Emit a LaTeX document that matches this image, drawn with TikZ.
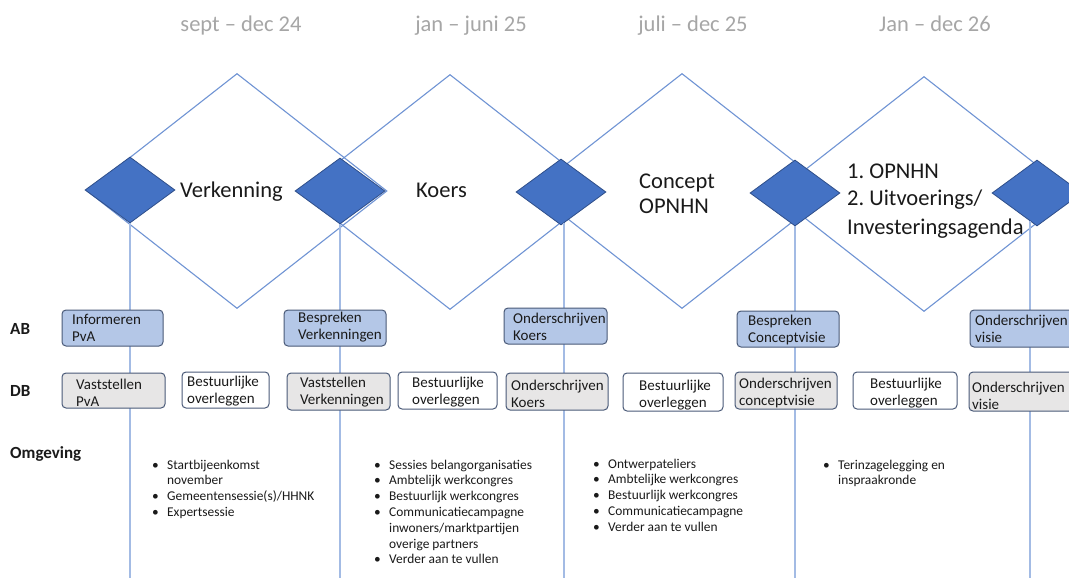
\documentclass[tikz,border=0pt]{standalone}
\usepackage{fontspec}
\setmainfont{Carlito}
\frenchspacing
\usetikzlibrary{shapes.geometric}
\definecolor{diamline}{HTML}{7094D4}
\definecolor{vline}{HTML}{A3BBE4}
\definecolor{smallfill}{HTML}{4472C4}
\definecolor{smalldraw}{HTML}{2F4F8A}
\definecolor{abfill}{HTML}{B4C7E7}
\definecolor{boxdraw}{HTML}{4A5A78}
\definecolor{dbfill}{HTML}{E7E6E6}
\definecolor{headgray}{HTML}{A6A6A6}
\definecolor{txt}{HTML}{1A1A1A}
\newcommand\llist[1]{\begin{tabular}[t]{@{}l@{}}#1\end{tabular}}
\newcommand\blist[1]{\begin{tabular}[t]{@{}p{15pt}@{}l@{}}#1\end{tabular}}
% name, x1, y1, x2, y2, style, text x, text baseline y, text
\newcommand\bx[9]{%
  \pgfmathsetmacro\bxw{#4-#2}\pgfmathsetmacro\bxh{#5-#3}%
  \node[#6, minimum width=\bxw pt, minimum height=\bxh pt] (#1) at ({(#2+#4)/2},{(#3+#5)/2}) {};
  \node[boxtext] (#1t) at (#7,#8) {\llist{#9}};}
\tikzset{
  bigd/.style={diamond, draw=diamline, line width=1.1pt, minimum width=300pt, minimum height=235pt, inner sep=0pt},
  smalld/.style={diamond, draw=smalldraw, fill=smallfill, line width=0.8pt, minimum width=90pt, minimum height=66pt, inner sep=0pt},
  vl/.style={draw=vline, line width=1.5pt},
  boxbase/.style={rounded corners=4pt, draw=boxdraw, line width=1pt, inner sep=0pt},
  abbox/.style={boxbase, fill=abfill},
  dbbox/.style={boxbase, fill=dbfill},
  wbox/.style={boxbase, fill=white},
  boxtext/.style={anchor=base west, inner sep=0pt, text=txt, font=\fontsize{15}{17}\selectfont},
  header/.style={anchor=base, text=headgray, font=\fontsize{22.5}{26}\selectfont, inner sep=0pt},
  rowlab/.style={anchor=base west, text=txt, font=\fontsize{17}{20}\selectfont\bfseries, inner sep=0pt},
  phase/.style={anchor=base west, text=txt, inner sep=0pt},
  bullets/.style={anchor=base west, text=txt, inner sep=0pt, font=\fontsize{13.4}{15.8}\selectfont},
}
\begin{document}
\begin{tikzpicture}[x=1pt,y=-1pt]
\path[use as bounding box] (0,0) rectangle (1069,578);
\clip (0,0) rectangle (1069,578);
\fill[white] (0,0) rectangle (1069,578);

% headers
\node[header] (h1) at (241,32) {sept – dec 24};
\node[header] (h2) at (471,32) {jan – juni 25};
\node[header] (h3) at (693,32) {juli – dec 25};
\node[header] (h4) at (935,32) {Jan – dec 26};

% big diamonds
\node[bigd] (b1) at (237,191) {};
\node[bigd] (b2) at (450,192) {};
\node[bigd] (b3) at (682,191) {};
\node[bigd] (b4) at (924,194) {};

% small diamonds
\node[smalld] (s1) at (130,190) {};
\node[smalld] (s2) at (340,191) {};
\node[smalld] (s3) at (561,192) {};
\node[smalld] (s4) at (795,193) {};
\node[smalld] (s5) at (1037,193) {};

% vertical lines
\coordinate (e1) at (130,578);
\coordinate (e2) at (340,578);
\coordinate (e3) at (564,578);
\coordinate (e4) at (795,578);
\coordinate (e5) at (1030,578);
\draw[vl] ([yshift=0.6pt]s1.south) -- (e1);
\draw[vl] ([yshift=0.6pt]s2.south) -- (e2);
\draw[vl] ([xshift=3pt,yshift=2.2pt]s3.south) -- (e3);
\draw[vl] ([yshift=0.6pt]s4.south) -- (e4);
\draw[vl] ([xshift=-7pt,yshift=5.1pt]s5.south) -- (e5);

% phase labels
\node[phase, font=\fontsize{22.5}{26}\selectfont] (p1) at (180,197) {Verkenning};
\node[phase, font=\fontsize{22.5}{26}\selectfont] (p2) at (416,197) {Koers};
\node[phase, font=\fontsize{22.5}{25.5}\selectfont] (p3) at (639,188) {\llist{Concept\\OPNHN}};
\node[phase, font=\fontsize{22.5}{28}\selectfont] (p4) at (847,178) {\llist{1. OPNHN\\2. Uitvoerings/\\Investeringsagenda}};

% row labels
\node[rowlab] (lab) at (10,334) {AB};
\node[rowlab] (ldb) at (10,396) {DB};
\node[rowlab] (lom) at (10,458) {Omgeving};

% AB boxes
\bx{a1}{62}{310}{163}{346}{abbox}{72}{324}{Informeren\\PvA}
\bx{a2}{284}{310}{386}{346}{abbox}{298}{322}{Bespreken\\Verkenningen}
\bx{a3}{504}{308}{607}{344}{abbox}{513}{323}{Onderschrijven\\Koers}
\bx{a4}{737}{311}{839}{347}{abbox}{748}{325}{Bespreken\\Conceptvisie}
\bx{a5}{970}{310}{1076}{347}{abbox}{975}{325}{Onderschrijven\\visie}

% DB boxes
\bx{d1}{62}{373}{165}{408}{dbbox}{76}{389}{Vaststellen\\PvA}
\bx{d2}{182}{372}{269}{408}{wbox}{187}{386}{Bestuurlijke\\overleggen}
\bx{d3}{287}{373}{390}{410}{dbbox}{300}{387}{Vaststellen\\Verkenningen}
\bx{d4}{398}{372}{497}{409}{wbox}{412}{387}{Bestuurlijke\\overleggen}
\bx{d5}{506}{373}{608}{410}{dbbox}{511}{390}{Onderschrijven\\Koers}
\bx{d6}{623}{373}{723}{411}{wbox}{639}{390}{Bestuurlijke\\overleggen}
\bx{d7}{735}{372}{837}{409}{dbbox}{739}{388}{Onderschrijven\\conceptvisie}
\bx{d8}{853}{372}{957}{409}{wbox}{870}{388}{Bestuurlijke\\overleggen}
\bx{d9}{969}{372}{1076}{411}{dbbox}{972}{392}{Onderschrijven\\visie}

% Omgeving lists
\node[bullets] (o1) at (152,469) {\blist{•&Startbijeenkomst\\&november\\•&Gemeentensessie(s)/HHNK\\•&Expertsessie}};
\node[bullets] (o2) at (374,469) {\blist{•&Sessies belangorganisaties\\•&Ambtelijk werkcongres\\•&Bestuurlijk werkcongres\\•&Communicatiecampagne\\&inwoners/marktpartijen\\&overige partners\\•&Verder aan te vullen}};
\node[bullets] (o3) at (593,468) {\blist{•&Ontwerpateliers\\•&Ambtelijke werkcongres\\•&Bestuurlijk werkcongres\\•&Communicatiecampagne\\•&Verder aan te vullen}};
\node[bullets] (o4) at (823,469) {\blist{•&Terinzagelegging en\\&inspraakronde}};
\end{tikzpicture}
\end{document}
